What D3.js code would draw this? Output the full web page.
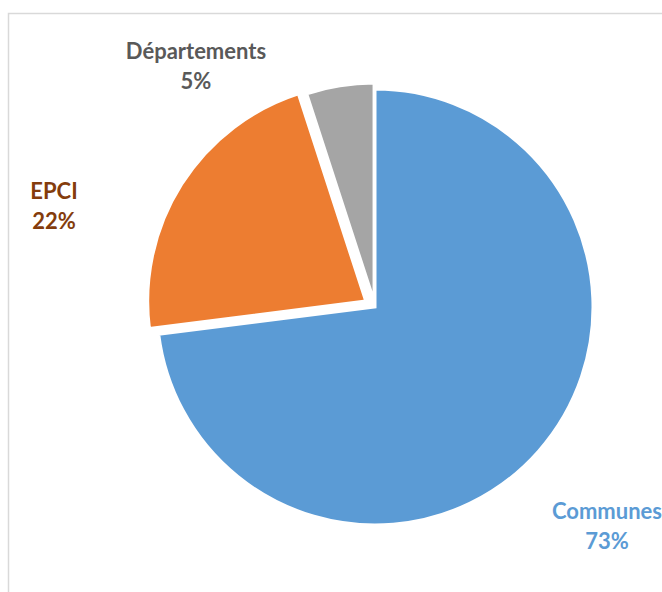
<!DOCTYPE html>
<html><head><meta charset="utf-8">
<script src="https://cdn.jsdelivr.net/npm/d3@7"></script>
<style>body{margin:0;background:#fff}svg{display:block}</style>
</head><body>
<svg id="c" width="662" height="592"></svg>
<script>
const categories = ["Communes", "EPCI", "Départements"];
const values = [73, 22, 5];
const labels = ["73%", "22%", "5%"];
const colors = ["#5B9BD5", "#ED7D31", "#A5A5A5"];
const labelColors = ["#5B9BD5", "#843C0C", "#595959"];
const explode = [0, 11, 6];
const labelPos = [[607, 519], [54, 199], [196, 59]];

const svg = d3.select("#c");
svg.append("rect").attr("x", 8.5).attr("y", 13.5).attr("width", 700).attr("height", 700)
  .attr("fill", "none").attr("stroke", "#d9d9d9").attr("stroke-width", 1.5);

const cx = 375, cy = 307, r = 218;
const pie = d3.pie().sort(null).value(d => d)(values);
const arc = d3.arc().innerRadius(0).outerRadius(r);
const g = svg.append("g").attr("transform", `translate(${cx},${cy})`);
g.selectAll("path").data(pie).join("path")
  .attr("d", arc)
  .attr("fill", (d, i) => colors[i])
  .attr("stroke", "#fff").attr("stroke-width", 3).attr("stroke-linejoin", "miter")
  .attr("transform", (d, i) => {
    const a = (d.startAngle + d.endAngle) / 2;
    return `translate(${Math.sin(a) * explode[i]},${-Math.cos(a) * explode[i]})`;
  });

categories.forEach((c, i) => {
  const t = svg.append("text").attr("x", labelPos[i][0]).attr("y", labelPos[i][1])
    .attr("text-anchor", "middle").attr("fill", labelColors[i])
    .style("font-family", "Lato, 'Open Sans', sans-serif").style("font-weight", "bold").style("font-size", "22px");
  t.append("tspan").attr("x", labelPos[i][0]).attr("dy", 0).text(c);
  t.append("tspan").attr("x", labelPos[i][0]).attr("dy", 30).text(labels[i]);
});
</script>
</body></html>
